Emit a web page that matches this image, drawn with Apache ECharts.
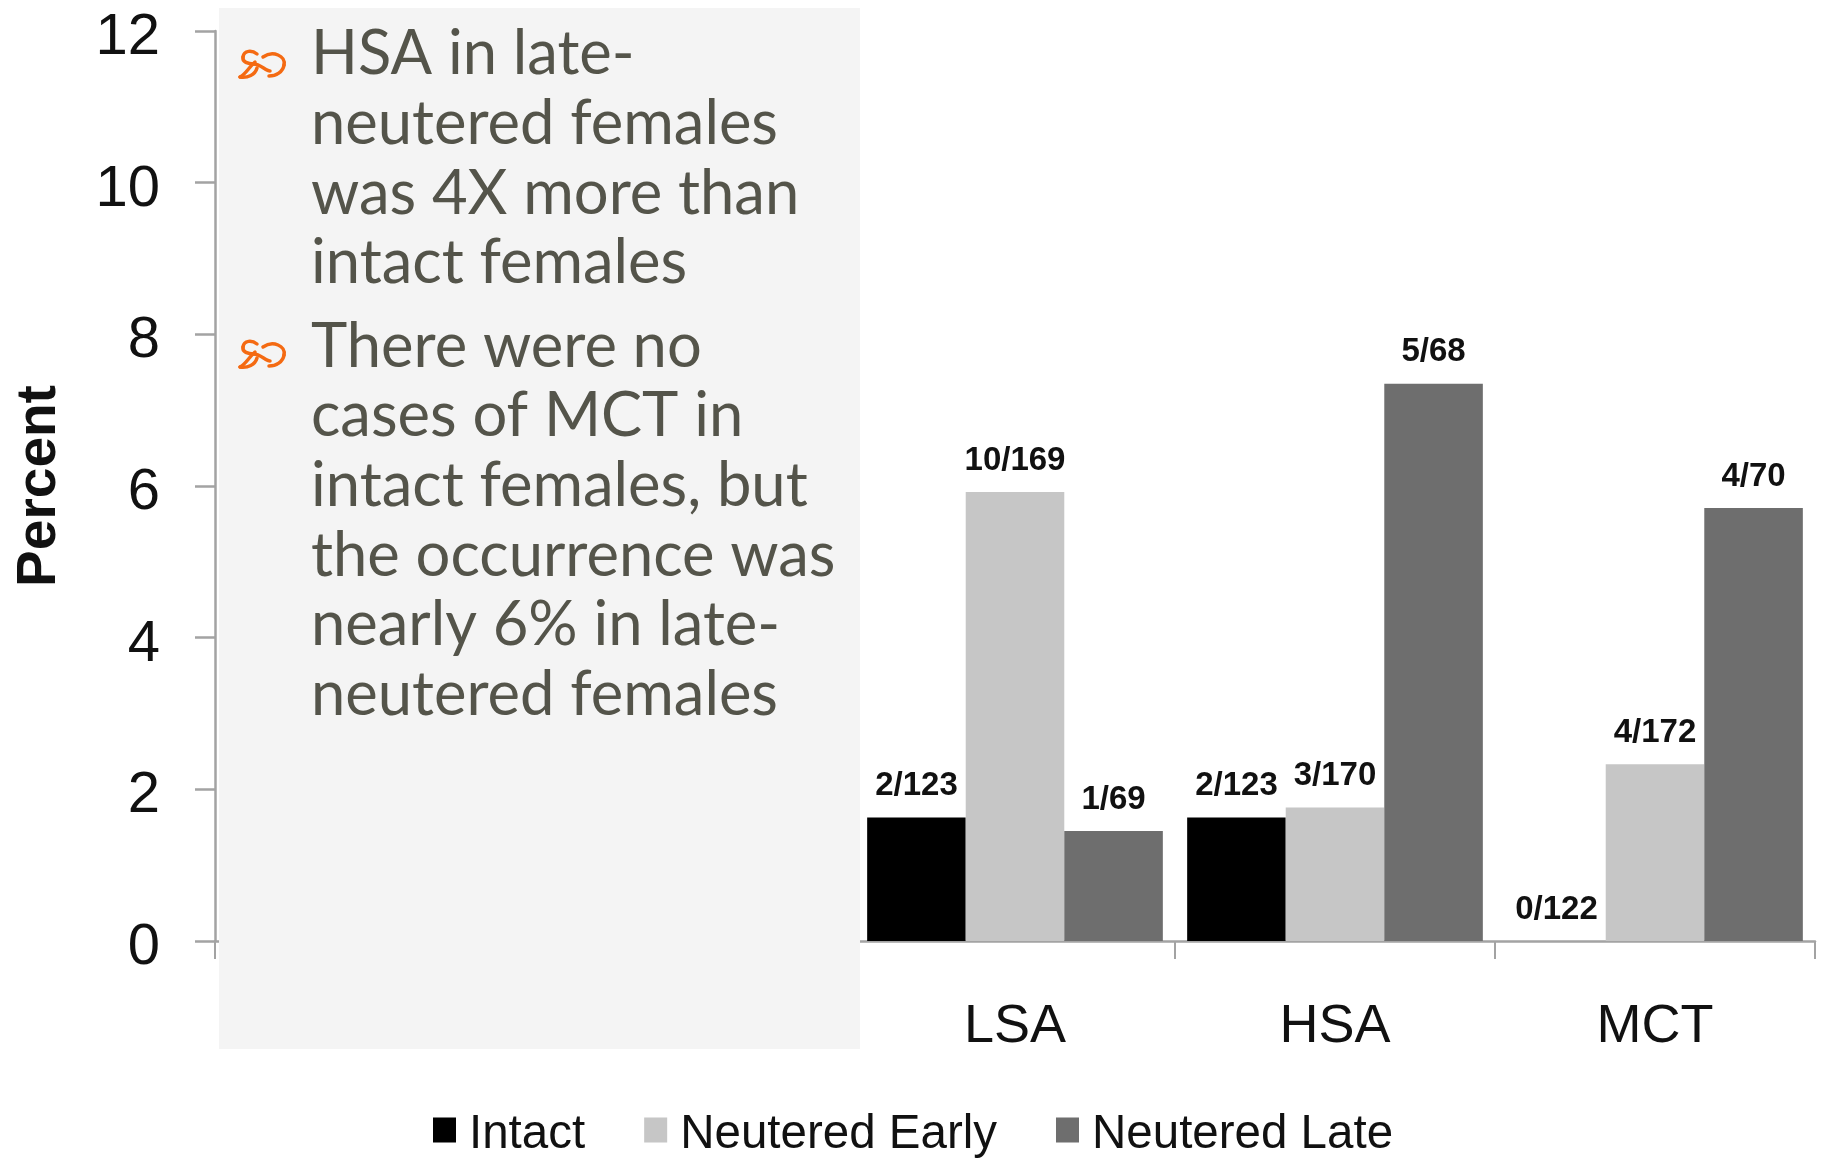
<!DOCTYPE html>
<html>
<head>
<meta charset="utf-8">
<title>Tumour occurrence in females by neuter status</title>
<style>html,body{margin:0;padding:0;background:#fff}#chart{width:1825px;height:1158px}</style>
<script src="https://cdn.jsdelivr.net/npm/echarts@6/dist/echarts.min.js"></script>
</head>
<body>
<div id="chart"></div>
<script>
// Two leading category slots sit under the text panel.
const categories = ['', '', 'LSA', 'HSA', 'MCT'];
const intact = [null, null, 1.63, 1.63, 0];
const neuteredEarly = [null, null, 5.92, 1.76, 2.33];
const neuteredLate = [null, null, 1.45, 7.35, 5.71];
const intactLabels = ['', '', '2/123', '2/123', '0/122'];
const earlyLabels = ['', '', '10/169', '3/170', '4/172'];
const lateLabels = ['', '', '1/69', '5/68', '4/70'];
const yTicks = [0, 12, 2];
const firstBullet = ['HSA in late-', 'neutered females', 'was 4X more than', 'intact females'];
const secondBullet = ['There were no', 'cases of MCT in', 'intact females, but', 'the occurrence was', 'nearly 6% in late-', 'neutered females'];

const ARIAL = '"Liberation Sans", Arial, sans-serif';
const BODY_FONT = 'Lato, "Open Sans", sans-serif';
const BODY_COLOR = '#54544a';
const LINE_GAP = 69.6;

// Legend swatch sits in the upper part of its item box, a little above the text's middle.
const SWATCH = 'path://M0 0H23V25H0ZM0 35H23V35H0Z';

// Curve segments of the ornamental bullet: x1,y1, cp1x,cp1y, cp2x,cp2y, x2,y2.
const CURL = [
  [17, 4, 12, 0, 4, 0, 3, 7],
  [3, 7, 2, 12, 8, 14, 14, 14],
  [14, 14, 20, 14, 26, 21, 30, 21],
  [0, 27, 6, 24, 9, 17, 15, 12],
  [0, 27, 8, 28, 15, 25, 17, 18],
  [23, 7, 33, 0, 46, 6, 44, 15],
  [44, 15, 43, 22, 36, 26, 29, 26]
];

function barSeries(name, values, labels, color) {
  return {
    name, type: 'bar', data: values,
    itemStyle: { color },
    barGap: 0, barCategoryGap: '7.6%',
    label: {
      show: true, position: 'top', distance: 15,
      color: '#111', fontFamily: ARIAL, fontWeight: 'bold', fontSize: 33,
      formatter: p => labels[p.dataIndex]
    }
  };
}

function textLines(lines, firstCentre) {
  return lines.map((t, i) => ({
    type: 'text', z: 101, x: 311, y: firstCentre + i * LINE_GAP,
    style: { text: t, font: '61.5px ' + BODY_FONT, fill: BODY_COLOR, verticalAlign: 'middle', textAlign: 'left' }
  }));
}

function bullet(y) {
  return {
    type: 'group', x: 240, y,
    children: CURL.map(c => ({
      type: 'bezierCurve', z: 101,
      shape: { x1: c[0], y1: c[1], cpx1: c[2], cpy1: c[3], cpx2: c[4], cpy2: c[5], x2: c[6], y2: c[7] },
      style: { fill: 'none', stroke: '#f46a12', lineWidth: 3.5, lineCap: 'round' }
    }))
  };
}

const chart = echarts.init(document.getElementById('chart'));
chart.setOption({
  animation: false,
  backgroundColor: '#fff',
  textStyle: { fontFamily: ARIAL },
  grid: { left: 215, right: 10, top: 31, bottom: 217, outerBoundsMode: 'none' },
  legend: {
    left: 428, top: 1106, itemWidth: 23, itemHeight: 35, itemGap: 59, icon: SWATCH,
    data: ['Intact', 'Neutered Early', 'Neutered Late'],
    textStyle: { fontFamily: ARIAL, fontSize: 47.5, color: '#111', padding: [26, 0, 0, 8] }
  },
  xAxis: {
    type: 'category', data: categories,
    axisLine: { lineStyle: { color: '#a3a3a3', width: 2.5 } },
    axisTick: { show: true, length: 18, alignWithLabel: false, lineStyle: { color: '#a3a3a3', width: 2 } },
    axisLabel: { fontFamily: ARIAL, fontSize: 54, color: '#111', margin: 59, interval: 0 }
  },
  yAxis: {
    type: 'value', min: yTicks[0], max: yTicks[1], interval: yTicks[2],
    name: 'Percent', nameLocation: 'middle', nameGap: 148, nameRotate: 90,
    nameTextStyle: { fontFamily: ARIAL, fontWeight: 'bold', fontSize: 55, color: '#111' },
    splitLine: { show: false },
    axisLine: { show: true, lineStyle: { color: '#a3a3a3', width: 2.5 } },
    axisTick: { show: true, length: 20, lineStyle: { color: '#a3a3a3', width: 2.5 } },
    axisLabel: { fontFamily: ARIAL, fontSize: 58, color: '#111', margin: 55, verticalAlign: 'top', lineHeight: 14 }
  },
  series: [
    barSeries('Intact', intact, intactLabels, '#000'),
    barSeries('Neutered Early', neuteredEarly, earlyLabels, '#c6c6c6'),
    barSeries('Neutered Late', neuteredLate, lateLabels, '#6e6e6e')
  ],
  graphic: [
    { type: 'rect', z: 100, shape: { x: 219, y: 8, width: 641, height: 1041 }, style: { fill: '#f4f4f4' } },
    bullet(50), bullet(340),
    ...textLines(firstBullet, 54.5),
    ...textLines(secondBullet, 347)
  ]
});
</script>
</body>
</html>
